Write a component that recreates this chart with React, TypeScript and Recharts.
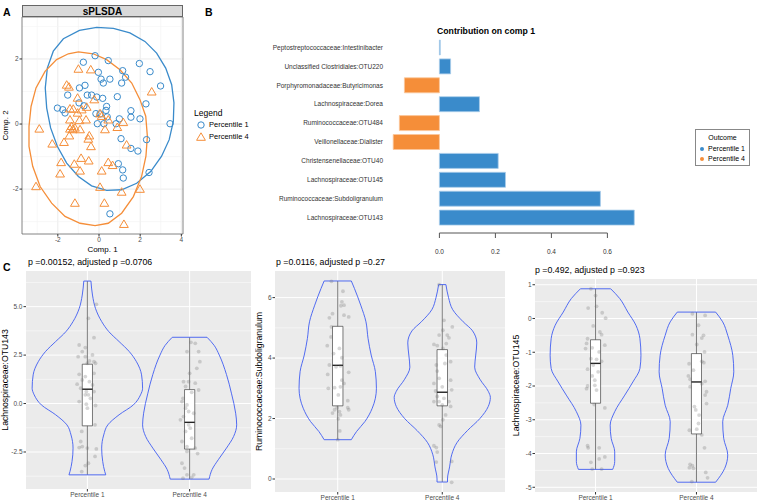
import React from "react";
import {
  ScatterChart,
  Scatter,
  BarChart,
  Bar,
  Cell,
  XAxis,
  YAxis,
  CartesianGrid,
  ReferenceArea,
  ReferenceLine,
} from "recharts";

const FONT = "'Liberation Sans', Arial, Helvetica, sans-serif";
const BLUE = "#3A8BCB";
const ORANGE = "#F58E39";
const VIOLIN = "#3F5CF2";

// ---------- Panel A: sPLSDA sample plot ----------
const p1Samples = [
  [-0.19, 2.1], [-0.76, 1.9], [0.45, 1.95], [1.96, 1.86], [2.48, 1.61], [1.15, 1.64],
  [1.29, 1.44], [-0.03, 1.59], [0.1, 1.38], [0.21, 1.26], [0.53, 1.38], [1.1, 1.26],
  [-0.68, 1.19], [-0.95, 1.11], [2.99, 1.17], [-1.52, 0.89], [-0.57, 0.89], [-0.36, 0.89],
  [-0.11, 0.83], [0.18, 0.79], [0.89, 0.84], [-0.97, 0.65], [-0.73, 0.56], [-2.02, 0.49],
  [-1.76, 0.44], [-1.65, 0.34], [0.37, 0.54], [0.34, 0.42], [-0.15, 0.32], [0.05, 0.31],
  [0.4, 0.22], [0.99, 0.16], [1.55, 0.41], [1.55, 0.21], [1.99, 0.16], [2.28, 0.62],
  [3.45, 0.01], [-0.08, 0.01], [0.24, 0.01], [0.83, 0.01], [1.07, -0.45], [1.55, -0.75],
  [1.89, -0.83], [2.31, -0.48], [0.94, -1.22], [1.15, -1.41], [1.18, -1.66], [2.43, -1.49],
  [0.53, -2.76],
];
const p4Samples = [
  [-1.0, 1.69], [-0.4, 1.67], [-1.57, 1.2], [-1.46, 1.14], [2.56, 0.99], [-1.04, 0.8],
  [-0.23, 0.75], [-1.41, 0.47], [-1.25, 0.46], [-0.84, 0.44], [-0.6, 0.52], [-1.04, 0.34],
  [-1.41, 0.13], [-0.63, 0.13], [-0.95, 0.11], [0.05, 0.32], [0.13, 0.24], [0.45, 0.13],
  [-2.9, -0.15], [-1.33, -0.07], [-1.17, -0.12], [-1.41, -0.15], [-1.28, -0.17], [-0.92, -0.17],
  [-1.44, -0.36], [-0.47, -0.36], [-0.52, -0.46], [-0.39, -0.69], [0.29, -0.17], [0.89, -0.1],
  [1.18, 0.05], [1.34, -0.64], [-2.27, -0.61], [-1.7, -0.56], [-0.87, -1.05], [-0.5, -1.13],
  [-1.2, -1.23], [-1.84, -1.18], [-1.89, -1.53], [-0.92, -1.44], [0.45, -1.18], [0.66, -1.27],
  [0.13, -1.44], [-3.06, -1.92], [0.05, -1.94], [1.1, -2.09], [1.99, -2.0], [-1.17, -2.43],
  [0.26, -2.43], [1.21, -3.08],
];
const p1Ellipse = [
  [-0.11, 2.97], [0.7, 2.94], [1.5, 2.8], [2.23, 2.54], [2.8, 2.18], [3.24, 1.72],
  [3.53, 1.21], [3.64, 0.65], [3.61, 0.08], [3.41, -0.48], [3.04, -0.99], [2.51, -1.46],
  [1.83, -1.82], [1.1, -2.02], [0.37, -2.04], [-0.36, -1.9], [-1.0, -1.61], [-1.57, -1.2],
  [-2.02, -0.69], [-2.35, -0.12], [-2.54, 0.49], [-2.61, 1.11], [-2.51, 1.72], [-2.22, 2.24],
  [-1.73, 2.62], [-0.95, 2.88],
];
const p4Ellipse = [
  [-1.0, 2.22], [-0.28, 2.16], [0.37, 1.98], [1.02, 1.67], [1.59, 1.26], [1.99, 0.75],
  [2.27, 0.24], [2.35, -0.38], [2.28, -0.99], [2.07, -1.61], [1.67, -2.23], [1.1, -2.74],
  [0.45, -3.05], [-0.19, -3.12], [-0.92, -3.05], [-1.65, -2.84], [-2.3, -2.43], [-2.86, -1.92],
  [-3.22, -1.3], [-3.4, -0.69], [-3.4, -0.07], [-3.3, 0.54], [-3.06, 1.11], [-2.62, 1.62],
  [-2.06, 1.98], [-1.49, 2.16],
];
const compXDomain = [-3.74, 4.08];
const compYDomain = [-3.38, 3.29];

// ---------- Panel B: loadings on comp 1 ----------
const taxa = [
  "Peptostreptococcaceae:Intestinibacter",
  "Unclassified Clostridiales:OTU220",
  "Porphyromonadaceae:Butyricimonas",
  "Lachnospiraceae:Dorea",
  "Ruminococcaceae:OTU484",
  "Veillonellaceae:Dialister",
  "Christensenellaceae:OTU40",
  "Lachnospiraceae:OTU145",
  "Ruminococcaceae:Subdoligranulum",
  "Lachnospiraceae:OTU143",
];
const contribution = [0.003, 0.04, -0.125, 0.143, -0.143, -0.165, 0.21, 0.236, 0.575, 0.696];
const outcome = [
  "Percentile 1", "Percentile 1", "Percentile 4", "Percentile 1", "Percentile 4",
  "Percentile 4", "Percentile 1", "Percentile 1", "Percentile 1", "Percentile 1",
];
const loadTicks = [0, 0.2, 0.4, 0.6];
const loadDomain = [-0.18, 0.72];

// ---------- Panel C: violin plots ----------
const groupLabels = ["Percentile 1", "Percentile 4"];

const otu143Violin1 = [
  [6.32, 0.035], [5.6, 0.05], [4.9, 0.08], [4.23, 0.14], [3.71, 0.21], [3.2, 0.31],
  [2.68, 0.41], [2.16, 0.48], [1.48, 0.53], [0.79, 0.54], [0.45, 0.52], [-0.07, 0.45],
  [-0.58, 0.31], [-1.1, 0.2], [-1.62, 0.16], [-2.3, 0.14], [-2.99, 0.15], [-3.51, 0.17],
  [-3.68, 0.18],
];
const otu143Violin4 = [
  [3.42, 0.17], [3.0, 0.24], [2.5, 0.29], [1.5, 0.36], [0.5, 0.41], [-0.5, 0.45],
  [-1.1, 0.46], [-1.7, 0.43], [-2.3, 0.36], [-2.9, 0.28], [-3.4, 0.22], [-3.9, 0.19],
];
const otu143Box1 = [-3.68, -1.15, 0.74, 2.03, 6.32];
const otu143Box4 = [-3.9, -2.35, -0.97, 0.72, 3.42];
const otu143Pts1 = [
  [0.088, 5.12], [0.01, 4.4], [0.065, 3.4], [-0.08, 3.02], [-0.02, 2.89], [-0.05, 2.68],
  [0.05, 2.51], [-0.02, 2.42], [-0.09, 2.42], [0.02, 2.2], [0.065, 2.16], [0.0, 2.08],
  [0.08, 2.08], [0.065, 1.56], [-0.08, 1.51], [-0.02, 1.39], [-0.05, 1.22], [0.02, 1.13],
  [0.05, 0.96], [-0.1, 1.0], [-0.065, 0.79], [-0.01, 0.62], [0.065, 0.62], [-0.02, 0.45],
  [0.01, 0.45], [0.03, 0.27], [-0.08, 0.1], [-0.01, -0.03], [0.08, -0.1], [0.0, -0.24],
  [0.075, -1.1], [-0.055, -1.44], [-0.065, -1.96], [-0.05, -2.22], [-0.08, -2.27],
  [0.0, -2.3], [0.088, -2.34], [0.075, -2.73], [-0.02, -3.2], [0.01, -3.08], [-0.055, -3.51],
];
const otu143Pts4 = [
  [0.013, 3.16], [0.055, 3.11], [0.088, 2.68], [-0.026, 2.68], [0.1, 2.16], [0.07, 1.82],
  [0.0, 1.56], [-0.06, 1.13], [-0.01, 1.13], [0.055, 1.05], [-0.04, 0.88], [0.088, 0.7],
  [0.02, 0.58], [-0.065, 0.27], [-0.075, 0.1], [-0.026, -0.07], [-0.04, -0.24], [-0.01, -0.41],
  [0.04, -0.5], [-0.06, -0.67], [-0.09, -0.84], [-0.01, -1.1], [0.006, -1.27], [-0.04, -1.44],
  [0.02, -1.79], [-0.075, -1.96], [-0.026, -2.22], [-0.026, -2.47], [0.055, -2.3],
  [0.078, -2.58], [-0.075, -3.08], [-0.05, -3.33], [-0.026, -3.68], [0.04, -3.68],
  [-0.065, -3.85], [0.02, -3.81],
];

const subdoViolin1 = [
  [6.55, 0.13], [6.3, 0.16], [5.75, 0.22], [5.2, 0.27], [4.65, 0.29], [4.1, 0.32],
  [3.55, 0.36], [3.0, 0.37], [2.67, 0.36], [2.34, 0.33], [1.9, 0.26], [1.57, 0.18], [1.3, 0.13],
];
const subdoViolin4 = [
  [6.43, 0.035], [6.0, 0.06], [5.6, 0.1], [5.2, 0.2], [4.9, 0.29], [4.5, 0.33], [4.1, 0.32],
  [3.7, 0.31], [3.3, 0.36], [2.9, 0.44], [2.7, 0.46], [2.4, 0.44], [2.0, 0.36], [1.6, 0.24],
  [1.2, 0.14], [0.8, 0.09], [0.4, 0.07], [0.0, 0.05], [-0.1, 0.05],
];
const subdoBox1 = [1.3, 2.42, 3.76, 5.05, 6.55];
const subdoBox4 = [-0.1, 2.42, 2.87, 4.28, 6.43];
const subdoPts1 = [
  [-0.06, 6.54], [0.05, 6.21], [0.04, 5.86], [0.06, 5.75], [0.03, 5.73], [-0.05, 5.47],
  [0.06, 5.42], [0.105, 5.36], [-0.08, 5.33], [-0.06, 5.03], [-0.064, 4.7], [0.016, 4.32],
  [-0.1, 4.41], [-0.04, 4.15], [0.04, 4.01], [-0.08, 3.77], [-0.016, 3.71], [0.026, 3.74],
  [0.105, 3.53], [-0.096, 3.46], [0.04, 3.27], [0.026, 3.05], [0.06, 3.16], [-0.09, 3.0],
  [-0.03, 3.02], [0.096, 2.59], [0.006, 2.78], [-0.03, 2.29], [-0.006, 2.36], [0.096, 2.36],
  [0.105, 2.29], [0.016, 2.23], [-0.05, 2.18], [0.026, 2.12], [0.006, 1.99], [0.02, 1.59],
  [0.0, 1.3],
];
const subdoPts4 = [
  [-0.03, 6.43], [0.016, 5.25], [0.096, 5.03], [0.006, 4.92], [-0.03, 4.76], [0.048, 4.76],
  [0.064, 4.67], [-0.08, 4.45], [-0.048, 4.41], [0.038, 4.48], [0.006, 4.32], [0.038, 4.1],
  [0.08, 3.88], [-0.057, 3.77], [0.025, 3.82], [-0.048, 3.57], [-0.03, 3.33], [0.08, 3.27],
  [-0.08, 3.16], [0.0, 3.05], [-0.064, 2.91], [0.09, 2.95], [-0.048, 2.73], [0.016, 2.67],
  [-0.08, 2.56], [-0.03, 2.56], [0.064, 2.56], [0.0, 2.45], [0.08, 2.4], [0.032, 2.12],
  [0.006, 1.96], [-0.03, 1.79], [-0.016, 1.74], [-0.08, 1.1], [-0.057, 1.04], [-0.048, 0.89],
  [-0.057, 0.56], [0.09, 0.58], [0.09, -0.11],
];

const otu145Violin1 = [
  [0.88, 0.15], [0.59, 0.24], [0.19, 0.32], [-0.2, 0.4], [-0.6, 0.44], [-1.09, 0.45],
  [-1.48, 0.44], [-1.88, 0.37], [-2.27, 0.29], [-2.76, 0.19], [-3.16, 0.145], [-3.55, 0.155],
  [-3.95, 0.19], [-4.24, 0.19], [-4.47, 0.17],
];
const otu145Violin4 = [
  [0.19, 0.19], [-0.1, 0.26], [-0.5, 0.31], [-1.09, 0.36], [-1.58, 0.37], [-2.07, 0.34],
  [-2.57, 0.31], [-3.06, 0.26], [-3.55, 0.27], [-4.04, 0.31], [-4.44, 0.28], [-4.85, 0.19],
];
const otu145Box1 = [-4.47, -2.51, -1.33, -0.63, 0.88];
const otu145Box4 = [-4.85, -3.42, -1.88, -1.04, 0.19];
const otu145Pts1 = [
  [-0.046, 0.88], [0.0, 0.68], [-0.073, 0.31], [0.01, 0.36], [0.066, 0.17], [0.1, 0.01],
  [-0.023, -0.22], [0.043, -0.4], [0.06, -0.48], [-0.079, -0.6], [-0.089, -0.74], [0.092, -0.79],
  [-0.033, -0.87], [-0.099, -0.89], [0.036, -0.99], [0.01, -1.21], [-0.046, -1.19], [0.06, -1.27],
  [-0.023, -1.38], [-0.079, -1.5], [0.026, -1.58], [-0.033, -1.7], [-0.007, -1.83],
  [-0.007, -1.98], [-0.079, -2.0], [-0.089, -2.08], [0.01, -2.12], [-0.013, -2.55],
  [0.092, -2.65], [-0.073, -3.83], [-0.079, -3.77], [0.036, -3.83], [0.092, -4.1],
  [0.036, -4.16], [-0.046, -4.26], [-0.033, -4.46], [0.06, -4.46],
];
const otu145Pts4 = [
  [-0.04, 0.14], [0.086, 0.09], [0.02, -0.2], [0.07, -0.5], [-0.04, -0.48], [0.053, -0.58],
  [0.003, -0.77], [0.08, -0.99], [-0.073, -1.34], [0.073, -1.31], [0.053, -1.27], [-0.03, -1.53],
  [-0.08, -1.7], [-0.063, -1.8], [0.086, -1.86], [0.053, -1.93], [-0.063, -2.02], [0.1, -2.17],
  [0.086, -2.27], [-0.02, -2.61], [0.1, -2.52], [-0.007, -2.71], [0.026, -2.86], [0.02, -3.11],
  [-0.07, -3.31], [0.003, -3.28], [0.053, -3.45], [0.08, -3.83], [-0.063, -4.32], [-0.04, -4.36],
  [-0.07, -4.42], [-0.03, -4.44], [0.092, -4.56], [0.11, -4.72], [-0.046, -4.83],
];

const violinPanels = [
  {
    title: "p =0.00152, adjusted p =0.0706",
    yLabel: "Lachnospiraceae:OTU143",
    domain: [-4.41, 6.84],
    ticks: [-2.5, 0, 2.5, 5],
    minor: [-3.75, -1.25, 1.25, 3.75, 6.25],
    fmt: (v: number) => v.toFixed(1),
    violins: [otu143Violin1, otu143Violin4],
    boxes: [otu143Box1, otu143Box4],
    points: [otu143Pts1, otu143Pts4],
    pos: { left: 0, width: 255, top: 9, right: 4, yw: 26, xh: 13, labelOffset: 5 },
    titlePos: { left: 28, top: 257 },
  },
  {
    title: "p =0.0116, adjusted p =0.27",
    yLabel: "Ruminococcaceae:Subdoligranulum",
    domain: [-0.43, 6.88],
    ticks: [0, 2, 4, 6],
    minor: [1, 3, 5],
    fmt: (v: number) => String(v),
    violins: [subdoViolin1, subdoViolin4],
    boxes: [subdoBox1, subdoBox4],
    points: [subdoPts1, subdoPts4],
    pos: { left: 255, width: 250, top: 9, right: 0, yw: 20, xh: 10, labelOffset: 4 },
    titlePos: { left: 276, top: 257 },
  },
  {
    title: "p =0.492, adjusted p =0.923",
    yLabel: "Lachnospiraceae:OTU145",
    domain: [-5.14, 1.17],
    ticks: [-5, -4, -3, -2, -1, 0, 1],
    minor: [-4.5, -3.5, -2.5, -1.5, -0.5, 0.5],
    fmt: (v: number) => String(v),
    violins: [otu145Violin1, otu145Violin4],
    boxes: [otu145Box1, otu145Box4],
    points: [otu145Pts1, otu145Pts4],
    pos: { left: 505, width: 255, top: 17, right: 3, yw: 30, xh: 10, labelOffset: 11 },
    titlePos: { left: 535, top: 265 },
  },
];

const toXY = (arr: number[][]) => arr.map(([x, y]) => ({ x, y }));
const noShape = () => <g />;

function OpenCircle(props: any) {
  return <circle cx={props.cx} cy={props.cy} r={3.2} fill="none" stroke={BLUE} strokeWidth={1} />;
}
function OpenTriangle(props: any) {
  const { cx, cy } = props;
  const pts = `${cx},${cy - 4.3} ${cx - 4.4},${cy + 3.2} ${cx + 4.4},${cy + 3.2}`;
  return <polygon points={pts} fill="none" stroke={ORANGE} strokeWidth={1} />;
}
function Jitter(props: any) {
  return <circle cx={props.cx} cy={props.cy} r={1.9} fill="#6f6f6f" fillOpacity={0.28} />;
}

function SampleLegendIcon({ kind }: { kind: string }) {
  return (
    <svg width={10} height={10} style={{ display: "block", flex: "none" }}>
      {kind === "circle" ? (
        <circle cx={5} cy={5} r={3.2} fill="none" stroke={BLUE} strokeWidth={1} />
      ) : (
        <polygon points="5,0.8 0.6,8.3 9.4,8.3" fill="none" stroke={ORANGE} strokeWidth={1} />
      )}
    </svg>
  );
}

function PanelA() {
  return (
    <div style={{ position: "absolute", left: 0, top: 0, width: 260, height: 260 }}>
      <ScatterChart width={190} height={260} margin={{ top: 17, right: 7, bottom: 0, left: 0 }}>
        <CartesianGrid
          fill="#fff"
          stroke="#EBEBEB"
          strokeWidth={1}
          horizontalValues={[-2, 0, 2]}
          verticalValues={[-2, 0, 2, 4]}
        />
        <CartesianGrid
          stroke="#F3F3F3"
          strokeWidth={0.6}
          horizontalValues={[-3, -1, 1, 3]}
          verticalValues={[-3, -1, 1, 3]}
        />
        <XAxis
          type="number"
          dataKey="x"
          domain={compXDomain}
          ticks={[-2, 0, 2, 4]}
          allowDataOverflow
          interval={0}
          height={26}
          axisLine={false}
          tickSize={2.5}
          tickMargin={1}
          tickLine={{ stroke: "#333" }}
          tick={{ fontSize: 6.5, fill: "#4D4D4D", fontFamily: FONT }}
          label={{ value: "Comp. 1", position: "insideBottom", offset: 8, fontSize: 8, fill: "#000", fontFamily: FONT }}
        />
        <YAxis
          type="number"
          dataKey="y"
          domain={compYDomain}
          ticks={[-2, 0, 2]}
          allowDataOverflow
          interval={0}
          width={22}
          axisLine={false}
          tickSize={2.5}
          tickMargin={1}
          tickLine={{ stroke: "#333" }}
          tick={{ fontSize: 6.5, fill: "#4D4D4D", fontFamily: FONT }}
          label={{
            value: "Comp. 2",
            angle: -90,
            position: "insideLeft",
            offset: 5,
            fontSize: 8,
            fill: "#000",
            fontFamily: FONT,
            style: { textAnchor: "middle" },
          }}
        />
        <ReferenceArea
          x1={compXDomain[0]}
          x2={compXDomain[1]}
          y1={compYDomain[0]}
          y2={compYDomain[1]}
          fill="none"
          stroke="#666"
          strokeWidth={0.8}
        />
        <Scatter data={toXY(p1Ellipse)} line={{ stroke: BLUE, strokeWidth: 1.3 }} lineJointType="linearClosed" shape={noShape} isAnimationActive={false} />
        <Scatter data={toXY(p4Ellipse)} line={{ stroke: ORANGE, strokeWidth: 1.3 }} lineJointType="linearClosed" shape={noShape} isAnimationActive={false} />
        <Scatter data={toXY(p1Samples)} shape={OpenCircle} isAnimationActive={false} />
        <Scatter data={toXY(p4Samples)} shape={OpenTriangle} isAnimationActive={false} />
      </ScatterChart>
      <div
        style={{
          position: "absolute",
          left: 22,
          top: 5,
          width: 161,
          height: 12,
          background: "#D9D9D9",
          border: "0.8px solid #666",
          boxSizing: "border-box",
          textAlign: "center",
          fontFamily: FONT,
          fontWeight: "bold",
          fontSize: 10,
          lineHeight: "11px",
        }}
      >
        sPLSDA
      </div>
      <div
        style={{
          position: "absolute",
          left: 194,
          top: 108,
          fontFamily: FONT,
          fontSize: 8.5,
          lineHeight: "10px",
          whiteSpace: "nowrap",
        }}
      >
        Legend
      </div>
      {["circle", "triangle"].map((k, i) => (
        <div
          key={k}
          style={{
            position: "absolute",
            left: 196,
            top: 120 + i * 12,
            display: "flex",
            alignItems: "center",
            gap: 3,
            fontFamily: FONT,
            fontSize: 7.5,
            lineHeight: "10px",
            whiteSpace: "nowrap",
          }}
        >
          <SampleLegendIcon kind={k} />
          <span>{groupLabels[i]}</span>
        </div>
      ))}
    </div>
  );
}

// panel B plot geometry (needed for the short base-R style axis line)
const B_WIDTH = 460;
const B_YAXIS_W = 189;
const B_MARGIN = { top: 18, right: 19, bottom: 0, left: 0 };
const B_STEP = (0.2 * (B_WIDTH - B_YAXIS_W - B_MARGIN.right - B_MARGIN.left)) / (loadDomain[1] - loadDomain[0]);

function LoadingTick(props: any) {
  const { x, y, payload } = props;
  const v = payload.value as number;
  return (
    <g>
      <line x1={x} y1={y} x2={x} y2={y + 5} stroke="#555" strokeWidth={1} />
      {v < loadTicks[loadTicks.length - 1] && (
        <line x1={x} y1={y} x2={x + B_STEP} y2={y} stroke="#555" strokeWidth={1} />
      )}
      <text x={x} y={y + 21} textAnchor="middle" fontSize={6.5} fill="#333" fontFamily={FONT}>
        {v.toFixed(1)}
      </text>
    </g>
  );
}

function TaxonTick(props: any) {
  const { x, y, payload } = props;
  return (
    <text x={x} y={y} dy={2.3} textAnchor="end" fontSize={6.5} fill="#333" fontFamily={FONT}>
      {payload.value}
    </text>
  );
}

function PanelB() {
  const data = taxa.map((t, i) => ({ taxon: t, value: contribution[i], outcome: outcome[i] }));
  return (
    <div style={{ position: "absolute", left: 200, top: 20, width: B_WIDTH, height: 240 }}>
      <BarChart layout="vertical" width={B_WIDTH} height={240} data={data} margin={B_MARGIN} barSize={15}>
        <XAxis
          type="number"
          domain={loadDomain}
          ticks={loadTicks}
          allowDataOverflow
          interval={0}
          axisLine={false}
          tickLine={false}
          tickSize={0}
          tickMargin={0}
          height={27}
          tick={<LoadingTick />}
        />
        <YAxis
          type="category"
          dataKey="taxon"
          width={B_YAXIS_W}
          interval={0}
          axisLine={false}
          tickLine={false}
          tickMargin={0}
          padding={{ top: 0, bottom: 6 }}
          tick={<TaxonTick />}
        />
        <Bar dataKey="value" isAnimationActive={false}>
          {data.map((d, i) => (
            <Cell
              key={i}
              fill={d.outcome === "Percentile 1" ? BLUE : ORANGE}
              stroke={d.outcome === "Percentile 1" ? "#A9CDEA" : "#FBC79B"}
              strokeWidth={0.8}
            />
          ))}
        </Bar>
      </BarChart>
      <div
        style={{
          position: "absolute",
          left: 237,
          top: 6,
          fontFamily: FONT,
          fontWeight: "bold",
          fontSize: 8.7,
          lineHeight: "10px",
          whiteSpace: "nowrap",
        }}
      >
        Contribution on comp 1
      </div>
      <div
        style={{
          position: "absolute",
          left: 495,
          top: 109,
          width: 55,
          height: 37,
          border: "1px solid #888",
          boxSizing: "border-box",
          fontFamily: FONT,
          fontSize: 7,
          lineHeight: "9px",
          background: "#fff",
          whiteSpace: "nowrap",
        }}
      >
        <div style={{ textAlign: "center", marginTop: 3 }}>Outcome</div>
        {groupLabels.map((g, i) => (
          <div key={g} style={{ display: "flex", alignItems: "center", marginLeft: 4, marginTop: i === 0 ? 2 : 1 }}>
            <span
              style={{
                width: 4,
                height: 4,
                borderRadius: 2,
                background: i === 0 ? BLUE : ORANGE,
                display: "inline-block",
                marginRight: 4,
              }}
            />
            <span>{g}</span>
          </div>
        ))}
      </div>
    </div>
  );
}

function violinLines(profile: number[][], g: number, key: string) {
  const left = profile.map(([v, w]) => ({ x: g - w, y: v }));
  const right = profile.map(([v, w]) => ({ x: g + w, y: v }));
  const last = profile.length - 1;
  const pieces = [left, right, [left[0], right[0]], [left[last], right[last]]];
  return pieces.map((d, i) => (
    <Scatter
      key={`${key}-${i}`}
      data={d}
      line={{ stroke: VIOLIN, strokeWidth: 0.9 }}
      lineJointType={i < 2 ? "monotoneY" : "linear"}
      shape={noShape}
      isAnimationActive={false}
    />
  ));
}

function boxplot(stats: number[], g: number, key: string) {
  const [lo, q1, med, q3, hi] = stats;
  const hw = 0.05;
  return [
    <ReferenceLine key={`${key}-wl`} segment={[{ x: g, y: lo }, { x: g, y: q1 }]} stroke="#444" strokeWidth={0.7} />,
    <ReferenceLine key={`${key}-wh`} segment={[{ x: g, y: q3 }, { x: g, y: hi }]} stroke="#444" strokeWidth={0.7} />,
    <ReferenceArea
      key={`${key}-box`}
      x1={g - hw}
      x2={g + hw}
      y1={q1}
      y2={q3}
      fill="#fff"
      fillOpacity={1}
      stroke="#444"
      strokeWidth={0.7}
    />,
    <ReferenceLine key={`${key}-med`} segment={[{ x: g - hw, y: med }, { x: g + hw, y: med }]} stroke="#222" strokeWidth={1.4} />,
  ];
}

function ViolinPanel({ cfg }: { cfg: any }) {
  const { pos } = cfg;
  return (
    <>
      <div style={{ position: "absolute", left: pos.left, top: 262, width: pos.width, height: 240 }}>
        <ScatterChart
          width={pos.width}
          height={240}
          margin={{ top: pos.top, right: pos.right, bottom: 0, left: 0 }}
        >
          <CartesianGrid
            fill="#EBEBEB"
            stroke="#fff"
            strokeWidth={1}
            horizontalValues={cfg.ticks}
            verticalValues={[1, 2]}
          />
          <CartesianGrid stroke="#fff" strokeWidth={0.5} horizontalValues={cfg.minor} vertical={false} />
          <XAxis
            type="number"
            dataKey="x"
            domain={[0.4, 2.6]}
            ticks={[1, 2]}
            allowDataOverflow
            interval={0}
            height={pos.xh}
            axisLine={false}
            tickSize={2.5}
            tickMargin={0.5}
            tickLine={{ stroke: "#333" }}
            tickFormatter={(v: number) => groupLabels[v - 1]}
            tick={{ fontSize: 6.5, fill: "#4D4D4D", fontFamily: FONT }}
          />
          <YAxis
            type="number"
            dataKey="y"
            domain={cfg.domain}
            ticks={cfg.ticks}
            allowDataOverflow
            interval={0}
            width={pos.yw}
            axisLine={false}
            tickSize={2.5}
            tickMargin={1}
            tickLine={{ stroke: "#333" }}
            tickFormatter={cfg.fmt}
            tick={{ fontSize: 6.5, fill: "#4D4D4D", fontFamily: FONT }}
            label={{
              value: cfg.yLabel,
              angle: -90,
              position: "insideLeft",
              offset: pos.labelOffset,
              fontSize: 8.7,
              fill: "#000",
              fontFamily: FONT,
              style: { textAnchor: "middle" },
            }}
          />
          {violinLines(cfg.violins[0], 1, "v1")}
          {violinLines(cfg.violins[1], 2, "v4")}
          {boxplot(cfg.boxes[0], 1, "b1")}
          {boxplot(cfg.boxes[1], 2, "b4")}
          {cfg.points.map((pts: number[][], gi: number) => (
            <Scatter
              key={`p${gi}`}
              data={pts.map(([dx, v]) => ({ x: gi + 1 + dx, y: v }))}
              shape={Jitter}
              isAnimationActive={false}
            />
          ))}
        </ScatterChart>
      </div>
      <div
        style={{
          position: "absolute",
          left: cfg.titlePos.left,
          top: cfg.titlePos.top,
          fontFamily: FONT,
          fontSize: 8.8,
          lineHeight: "10px",
          whiteSpace: "nowrap",
        }}
      >
        {cfg.title}
      </div>
    </>
  );
}

const panelTag = (text: string, left: number, top: number) => (
  <div
    style={{
      position: "absolute",
      left,
      top,
      fontFamily: FONT,
      fontWeight: "bold",
      fontSize: 10.5,
      lineHeight: "12px",
    }}
  >
    {text}
  </div>
);

export default function App() {
  return (
    <div style={{ position: "relative", width: 760, height: 502, background: "#fff", overflow: "hidden" }}>
      <style>{"body{margin:0;}"}</style>
      <PanelA />
      <PanelB />
      {violinPanels.map((cfg, i) => (
        <ViolinPanel key={i} cfg={cfg} />
      ))}
      {panelTag("A", 3, 6)}
      {panelTag("B", 205, 6)}
      {panelTag("C", 3, 261)}
    </div>
  );
}
